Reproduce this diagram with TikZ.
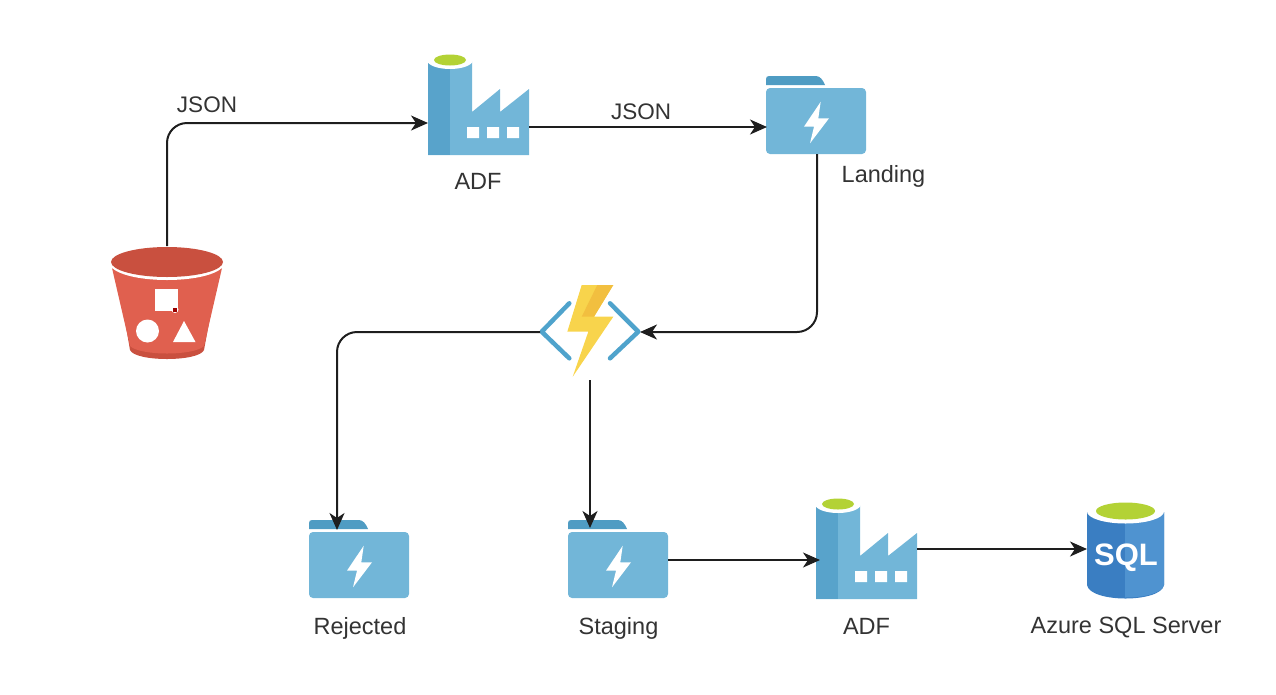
\documentclass[tikz,border=0pt]{standalone}
\usepackage{fontspec}
\setmainfont{Liberation Sans}
\usetikzlibrary{arrows.meta}
\definecolor{fmain}{HTML}{72B6D8}
\definecolor{fshade}{HTML}{58A3CB}
\definecolor{ftab}{HTML}{4F9CC3}
\definecolor{fgreen}{HTML}{B3D235}
\definecolor{bred}{HTML}{E0604F}
\definecolor{bdark}{HTML}{C9503F}
\definecolor{boltA}{HTML}{F8D44C}
\definecolor{boltB}{HTML}{F2BF3F}
\definecolor{chev}{HTML}{4FA3CC}
\definecolor{sqlA}{HTML}{3A7EC2}
\definecolor{sqlB}{HTML}{4F93D0}
\definecolor{ink}{HTML}{1E1E1E}
\definecolor{lab}{HTML}{333333}
\tikzset{
  iconbox/.style={inner sep=0pt,outer sep=0pt,minimum width=#1},
  conn/.style={draw=ink,line width=2pt,-{Stealth[length=17pt,width=15pt,inset=5pt]}},
  lbl/.style={text=lab,font=\fontsize{23.5}{28}\selectfont,inner sep=0pt},
  jsonlbl/.style={text=lab,font=\fontsize{22.5}{27}\selectfont,inner sep=0pt},
  factory/.pic={
    \fill[fmain] (0,5) -- (0,100) -- (101,100) -- (101,34) -- (72,57) -- (72,34) -- (44,57) -- (44,5) -- cycle;
    \fill[fshade] (0,5) -- (0,100) -- (22,100) -- (22,5) -- cycle;
    \fill[white] (22,5) ellipse [x radius=23pt,y radius=9pt];
    \fill[fgreen] (22,5) ellipse [x radius=16pt,y radius=5.5pt];
    \fill[white] (39,72) rectangle (51,83) (59,72) rectangle (71,83) (79,72) rectangle (91,83);
  },
  folder/.pic={
    \fill[ftab] (0,9) -- (0,3) .. controls (0,1) and (1,0) .. (3,0) -- (50,0) .. controls (54,0) and (57,4) .. (59,9) -- cycle;
    \fill[fmain,rounded corners=4pt] (0,12) rectangle (100,78);
    \fill[white] (54.7,25.7) -- (38,50.7) -- (48,50.7) -- (44,67.3) -- (63,42.3) -- (52.3,42.3) -- cycle;
  },
}
\begin{document}
\begin{tikzpicture}[x=1pt,y=-1pt]
\useasboundingbox (0,0) rectangle (1276,694);
% icons
\pic at (428,55) {factory};
\pic at (816,499) {factory};
\pic at (766,76) {folder};
\pic at (309,520) {folder};
\pic at (568,520) {folder};
% bucket
\fill[bdark] (118,280) -- (130,350) .. controls (135,362) and (199,362) .. (204,350) -- (217,280) -- cycle;
\fill[bred] (112,268) -- (130,346) .. controls (140,356) and (194,356) .. (204,346) -- (222,268) .. controls (200,282) and (134,282) .. (112,268) -- cycle;
\fill[white] (112,265) .. controls (130,281) and (204,281) .. (222,265) -- (222,268) .. controls (204,284) and (130,284) .. (112,268) -- cycle;
\fill[bdark] (167,262) ellipse [x radius=56pt,y radius=15pt];
\fill[white] (154.5,289) rectangle (178,311);
\fill[white] (147.5,331) circle [radius=11.5pt];
\fill[white] (173,342) -- (195.5,342) -- (184,321) -- cycle;
\fill[white] (175,309.5) circle [radius=3.5pt];
\fill[red!60!black] (173,307.5) rectangle (177,311.5);
% function
\fill[boltA] (581.7,285) -- (613.3,285) -- (594,316.7) -- (613.3,316.7) -- (572.7,376.7) -- (588.3,331.7) -- (567.3,331.7) -- cycle;
\fill[boltB] (597.3,285) -- (613.3,285) -- (594,316.7) -- (581.7,316.7) -- cycle;
\draw[chev,line width=4.5pt,line cap=round,line join=round] (569.3,303.3) -- (541.7,331.7) -- (569.3,358.3);
\draw[chev,line width=4.5pt,line cap=round,line join=round] (610,303.3) -- (638.3,331.7) -- (610,358.3);
% sql
\fill[sqlA] (1087,512) -- (1087,585) .. controls (1090,603) and (1161,603) .. (1164,585) -- (1164,512) -- cycle;
\fill[sqlB] (1125,512) -- (1125,597.5) .. controls (1145,597.5) and (1162,593) .. (1164,585) -- (1164,512) -- cycle;
\fill[white] (1125.5,511.5) ellipse [x radius=38.5pt,y radius=12pt];
\fill[fgreen] (1125.5,511) ellipse [x radius=29.5pt,y radius=8.5pt];
% named anchors
\node[iconbox=112pt,minimum height=114pt] (bucket) at (167,303) {};
\node[iconbox=101pt,minimum height=100pt] (adf1) at (478.5,105) {};
\node[iconbox=102pt,minimum height=78pt] (landing) at (817,115) {};
\node[iconbox=100pt,minimum height=96pt] (func) at (590,332) {};
\node[iconbox=100pt,minimum height=78pt] (rejected) at (359,559) {};
\node[iconbox=100pt,minimum height=78pt] (staging) at (618,559) {};
\node[iconbox=101pt,minimum height=100pt] (adf2) at (866.5,549) {};
\node[iconbox=77pt,minimum height=98pt] (sql) at (1125.5,549) {};
\node[text=white,inner sep=0pt,font=\fontsize{31}{36}\bfseries\selectfont] (sqltxt) at (1126,558) {SQL};
% labels
\node[jsonlbl] (j1) at (207,105) {JSON};
\node[jsonlbl] (j2) at (641,112) {JSON};
\node[lbl] (l1) at (478,181) {ADF};
\node[lbl] (l2) at (883.5,176) {Landing};
\node[lbl] (l3) at (360,628) {Rejected};
\node[lbl] (l4) at (618.5,628) {Staging};
\node[lbl] (l5) at (866.5,626) {ADF};
\node[lbl] (l6) at (1126,627.5) {Azure SQL Server};
% connectors
\draw[conn,rounded corners=20pt] (bucket.north) |- ([yshift=-18pt]adf1.west);
\draw[conn] ([yshift=-22pt]adf1.east) -- ([yshift=-12pt,xshift=1pt]landing.west);
\draw[conn,rounded corners=20pt] (landing.south) |- (func.east);
\draw[conn,rounded corners=20pt] (func.west) -| ([xshift=-22pt,yshift=-10pt]rejected.north);
\draw[conn] (func.south) -- ([yshift=-8pt]func.south |- staging.north);
\draw[conn] ([yshift=-1pt]staging.east) -- ([yshift=-11pt,xshift=4pt]adf2.west);
\draw[conn] (adf2.east) -- (sql.west);
\end{tikzpicture}
\end{document}
